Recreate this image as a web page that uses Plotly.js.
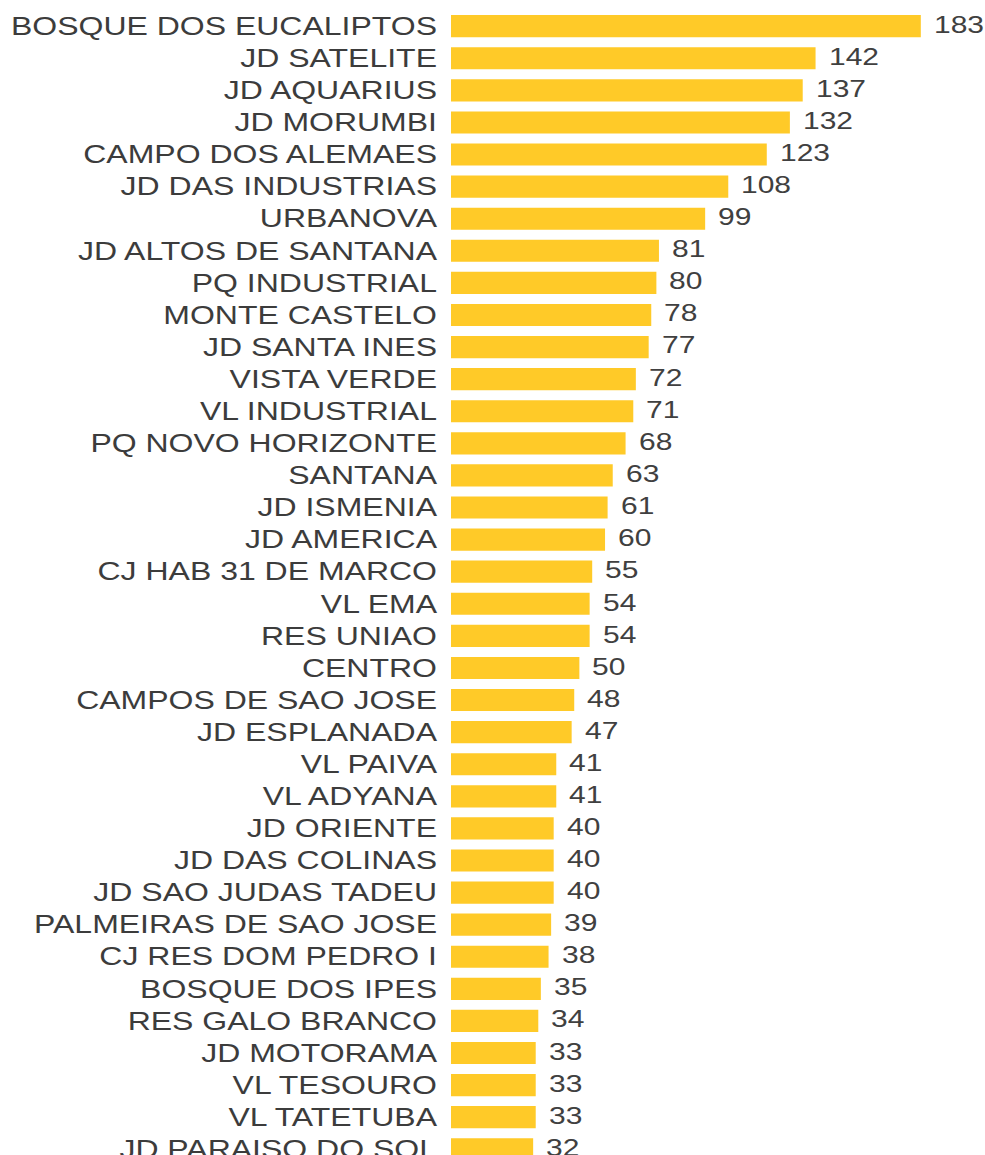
<!DOCTYPE html>
<html>
<head>
<meta charset="utf-8">
<script src="https://cdn.plot.ly/plotly-3.0.1.min.js"></script>
<style>
html, body { margin: 0; padding: 0; width: 985px; height: 1155px; overflow: hidden; background: #fff; }
#wrap { width: 985px; height: 1155px; overflow: hidden; position: relative; }
#chart { width: 985px; transform-origin: 0 0; position: absolute; left: 0; top: 0; }
</style>
</head>
<body>
<div id="wrap"><div id="chart"></div></div>
<script>
const bairros = [
  "BOSQUE DOS EUCALIPTOS", "JD SATELITE", "JD AQUARIUS", "JD MORUMBI",
  "CAMPO DOS ALEMAES", "JD DAS INDUSTRIAS", "URBANOVA", "JD ALTOS DE SANTANA",
  "PQ INDUSTRIAL", "MONTE CASTELO", "JD SANTA INES", "VISTA VERDE",
  "VL INDUSTRIAL", "PQ NOVO HORIZONTE", "SANTANA", "JD ISMENIA",
  "JD AMERICA", "CJ HAB 31 DE MARCO", "VL EMA", "RES UNIAO",
  "CENTRO", "CAMPOS DE SAO JOSE", "JD ESPLANADA", "VL PAIVA",
  "VL ADYANA", "JD ORIENTE", "JD DAS COLINAS", "JD SAO JUDAS TADEU",
  "PALMEIRAS DE SAO JOSE", "CJ RES DOM PEDRO I", "BOSQUE DOS IPES", "RES GALO BRANCO",
  "JD MOTORAMA", "VL TESOURO", "VL TATETUBA", "JD PARAISO DO SOL"
];
const casos = [
  183, 142, 137, 132,
  123, 108, 99, 81,
  80, 78, 77, 72,
  71, 68, 63, 61,
  60, 55, 54, 54,
  50, 48, 47, 41,
  41, 40, 40, 40,
  39, 38, 35, 34,
  33, 33, 33, 32
];

const S = 0.78;               // vertical squash of the reference image
const H = Math.round(1165 / S);
const chartDiv = document.getElementById('chart');
chartDiv.style.height = H + 'px';
chartDiv.style.transform = 'scale(1,' + S + ')';

const FONT = '"Liberation Sans", Arial, sans-serif';

const annotations = bairros.map((b, i) => ({
  x: casos[i], y: b, xref: 'x', yref: 'y',
  text: String(casos[i]), showarrow: false,
  xanchor: 'left', yanchor: 'middle', xshift: 11, yshift: 2,
  font: { family: FONT, size: 30, color: '#404040' }
}));

const trace = {
  type: 'bar', orientation: 'h',
  x: casos, y: bairros,
  marker: { color: '#FFCA28', line: { width: 0 } },
  hoverinfo: 'none'
};

const layout = {
  width: 985, height: H,
  margin: { l: 451, r: 0, t: Math.round(10 / S), b: 0, pad: 0 },
  paper_bgcolor: '#ffffff', plot_bgcolor: '#ffffff',
  showlegend: false,
  bargap: 0.31,
  xaxis: {
    range: [0, 208], showgrid: false, zeroline: false, showline: false,
    showticklabels: false, ticks: '', fixedrange: true
  },
  yaxis: {
    type: 'category', categoryorder: 'array', categoryarray: bairros,
    range: [bairros.length - 0.5, -0.5],
    showgrid: false, zeroline: false, showline: false, ticks: '',
    ticklabelstandoff: 13, automargin: false,
    tickfont: { family: FONT, size: 32, color: '#3c3c3c' }
  },
  annotations: annotations
};

Plotly.newPlot(chartDiv, [trace], layout, { displayModeBar: false, staticPlot: true });
</script>
</body>
</html>
